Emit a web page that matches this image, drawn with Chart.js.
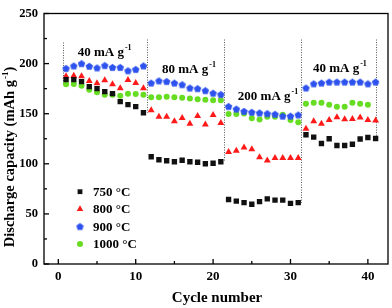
<!DOCTYPE html>
<html><head><meta charset="utf-8">
<script src="https://cdn.jsdelivr.net/npm/chart.js@4.4.1/dist/chart.umd.min.js"></script>
<style>html,body{margin:0;padding:0;background:#fff}#wrap{width:392px;height:308px;position:relative}</style>
</head><body><div id="wrap"><canvas id="c"></canvas></div>
<script>
const cycles = [1,2,3,4,5,6,7,8,9,10,11,12,13,14,15,16,17,18,19,20,21,22,23,24,25,26,27,28,29,30,31,32,33,34,35,36,37,38,39,40,41];
const cap750 = [184,184,182,177,175,172,170,162,159,157,151, 107,104,103,102,103.5,102,101.5,100,100.5,102, 64.4,62.8,61.2,59.6,62.2,65,63.8,63.8,60.5,61.2, 129,126.6,120.2,125,118.3,118.3,119.5,124.7,126.3,125.3];
const cap800 = [187.5,187.8,187.5,182.6,180.4,183.3,179.4,175.5,183.6,180.7,175.5, 153.5,147,147,142.5,145.7,139.9,147.7,139.2,148.6,140.6, 111.7,113,116.3,114.6,106.6,103.3,105.9,105.9,105.9,105.9, 135,142.5,139.9,143.8,146.4,144.5,144.8,146.1,143.8,143.1];
const cap900 = [195,197.5,199.8,197.2,195.6,197.9,196,196,192.7,194,197.5, 180.4,182.6,182,180.4,178.8,175.5,174.9,172.9,170.3,169, 157,154.5,152.2,151.3,150.6,149.9,149.3,147.4,147.4,148.6, 175.5,179.7,180.4,181.4,181.4,181.4,181.4,181.4,179.7,181.4];
const cap1000 = [179.4,179.7,177.8,173.9,171.3,169,169,168,170,169.7,169, 166.4,166.4,166.8,166.4,165.8,165.2,164.5,163.9,163.5,163.5, 149.6,149.6,150.3,145.4,144.1,147,147,148.9,143.8,141.5, 160,161,161,159,157,157,161,160,159];
const seriesLabels = ['750 °C','800 °C','900 °C','1000 °C'];
const xTicks = [0,10,20,30,40];
const xMinorTicks = [5,15,25,35];
const yTicks = [0,50,100,150,200,250];
const yMinorTicks = [25,75,125,175,225];
const dividerCycles = [0.6,11.4,21.4,31.3,41.05];
const dividerTop = [221,224,224,224,224];
const dividerBottom = [180,151,102,61,125];
const rateMain = ['40 mA g','80 mA g','200 mA g','40 mA g'];
const rateSup = '-1';
const rateAtX = [2.5,13.4,23.2,32.9];
const rateAtY = [208,190.4,163.2,191.7];

const COLORS = ['#111111','#ff1a1a','#2e52ee','#66dd22'];
function pentagon(color){
  const c=document.createElement('canvas'); c.width=9; c.height=9;
  const g=c.getContext('2d'); g.fillStyle=color; g.beginPath();
  for(let i=0;i<5;i++){const a=-Math.PI/2+i*2*Math.PI/5; const px=4.5+3.9*Math.cos(a), py=4.7+3.9*Math.sin(a); i?g.lineTo(px,py):g.moveTo(px,py);}
  g.closePath(); g.fill(); return c;
}
const pent = pentagon(COLORS[2]);
const STYLES = [
  {pointStyle:'rect', pointRadius:3.8},
  {pointStyle:'triangle', pointRadius:4},
  {pointStyle:pent, pointRadius:4},
  {pointStyle:'circle', pointRadius:3}
];
const allVals=[cap750,cap800,cap900,cap1000];
const datasets = allVals.map((vals,i)=>({
  label: seriesLabels[i],
  data: vals.map((v,j)=>({x:cycles[j], y:v})),
  showLine:false,
  backgroundColor: COLORS[i], borderColor: COLORS[i], borderWidth:0,
  pointStyle: STYLES[i].pointStyle, pointRadius: STYLES[i].pointRadius, pointHoverRadius: STYLES[i].pointRadius
}));

const FONT = "'Liberation Serif','Times New Roman',serif";
const refPlugin = {
  id:'ref',
  beforeDatasetsDraw(chart){
    const {ctx, scales:{x,y}} = chart;
    ctx.save(); ctx.strokeStyle='#555'; ctx.lineWidth=1; ctx.setLineDash([1,1.5]);
    dividerCycles.forEach((c,i)=>{
      const px=Math.round(x.getPixelForValue(c))+0.5;
      ctx.beginPath(); ctx.moveTo(px,y.getPixelForValue(dividerTop[i])); ctx.lineTo(px,y.getPixelForValue(dividerBottom[i])); ctx.stroke();
    });
    ctx.restore();
  },
  afterDraw(chart){
    const {ctx, chartArea:a, scales:{x,y}} = chart;
    ctx.save();
    ctx.strokeStyle='#000'; ctx.lineWidth=1.3; ctx.setLineDash([]);
    ctx.strokeRect(a.left, a.top, a.right-a.left, a.bottom-a.top);
    const seg=(x1,y1,x2,y2)=>{ctx.beginPath();ctx.moveTo(x1,y1);ctx.lineTo(x2,y2);ctx.stroke();};
    xTicks.forEach(v=>{const p=x.getPixelForValue(v); seg(p,a.bottom,p,a.bottom-5);});
    xMinorTicks.forEach(v=>{const p=x.getPixelForValue(v); seg(p,a.bottom,p,a.bottom-3);});
    yTicks.forEach(v=>{const p=y.getPixelForValue(v); seg(a.left,p,a.left+5,p);});
    yMinorTicks.forEach(v=>{const p=y.getPixelForValue(v); seg(a.left,p,a.left+3,p);});
    // rate annotations
    ctx.fillStyle='#000'; ctx.textBaseline='alphabetic'; ctx.textAlign='left';
    rateMain.forEach((t,i)=>{
      const px=x.getPixelForValue(rateAtX[i]), py=y.getPixelForValue(rateAtY[i]);
      ctx.font='bold 13px '+FONT; ctx.fillText(t,px,py);
      const w=ctx.measureText(t).width;
      ctx.font='bold 8px '+FONT; ctx.fillText(rateSup,px+w+1,py-6);
    });
    // legend
    const rows=[191.7,209,226.7,244];
    rows.forEach((ry,i)=>{
      const st=STYLES[i];
      const r = i===3?3:(i===0?3.4:3.8);
      ctx.fillStyle=COLORS[i];
      if(i===2){ ctx.drawImage(pent, 80-4.5, ry-4.5); }
      else Chart.helpers.drawPoint(ctx,{pointStyle:st.pointStyle, radius:r, rotation:0, borderWidth:0},80,ry);
      ctx.fillStyle='#000'; ctx.font='bold 13px '+FONT; ctx.textBaseline='middle';
      ctx.fillText(seriesLabels[i],93,ry+0.5);
    });
    // axis titles
    ctx.textBaseline='middle'; ctx.textAlign='center';
    ctx.font='bold 15px '+FONT; ctx.fillText('Cycle number', 217, 298);
    ctx.save(); ctx.translate(10.5,157); ctx.rotate(-Math.PI/2);
    const main='Discharge capacity (mAh g', sup='-1', close=')';
    ctx.font='bold 14.5px '+FONT; const w1=ctx.measureText(main).width, w3=ctx.measureText(close).width;
    ctx.font='bold 9px '+FONT; const w2=ctx.measureText(sup).width;
    let sx=-(w1+w2+w3+1)/2; ctx.textAlign='left';
    ctx.font='bold 14.5px '+FONT; ctx.fillText(main,sx,0);
    ctx.font='bold 9px '+FONT; ctx.fillText(sup,sx+w1+1,-5);
    ctx.font='bold 14.5px '+FONT; ctx.fillText(close,sx+w1+w2+1,0);
    ctx.restore();
    ctx.restore();
  }
};

new Chart(document.getElementById('c'), {
  type:'scatter',
  data:{datasets},
  options:{
    responsive:true, maintainAspectRatio:false, animation:false,
    layout:{padding:{top:7,right:4,left:0,bottom:0}},
    plugins:{legend:{display:false}, tooltip:{enabled:false}},
    elements:{point:{borderWidth:0}},
    scales:{
      x:{type:'linear', min:-1.85, max:42.6,
        afterBuildTicks:s=>{s.ticks=xTicks.map(v=>({value:v}));},
        afterFit:s=>{s.height=44;},
        grid:{display:false, drawTicks:false, tickLength:0}, border:{display:false},
        ticks:{color:'#000', font:{family:FONT, size:13, weight:'bold'}, padding:5, maxRotation:0}
      },
      y:{type:'linear', min:0, max:250,
        afterBuildTicks:s=>{s.ticks=yTicks.map(v=>({value:v}));},
        afterFit:s=>{s.width=44;},
        grid:{display:false, drawTicks:false, tickLength:0}, border:{display:false},
        ticks:{color:'#000', font:{family:FONT, size:12.5, weight:'bold'}, padding:6}
      }
    }
  },
  plugins:[refPlugin]
});
</script></body></html>
